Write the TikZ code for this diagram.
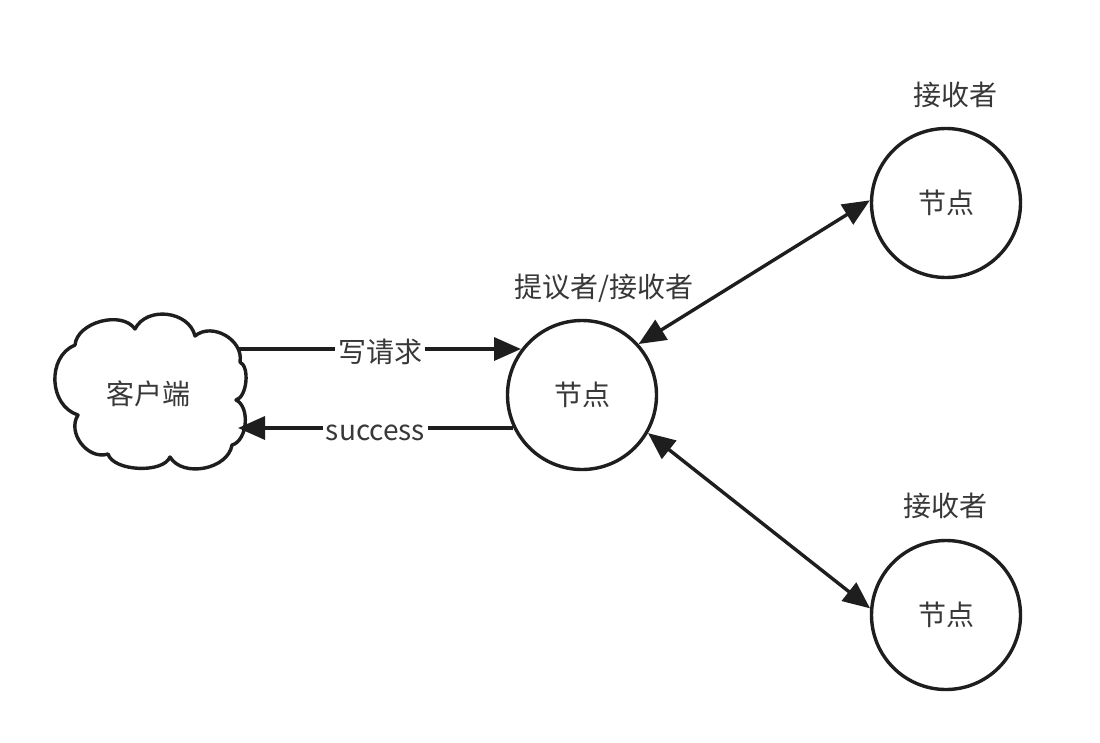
\documentclass[tikz,border=0pt]{standalone}
\usepackage{fontspec}
\setmainfont{Noto Sans CJK SC}
\usetikzlibrary{arrows.meta}
\definecolor{linec}{HTML}{1E1E1E}
\definecolor{textc}{HTML}{383838}
\tikzset{
  nodecirc/.style={circle,draw=linec,line width=3.4pt,minimum size=149pt,inner sep=0pt,text=textc,font=\fontsize{28}{32}\selectfont},
  lbl/.style={text=textc,font=\fontsize{28}{32}\selectfont,inner sep=1pt},
  conn/.style={draw=linec,line width=3.4pt},
  tip/.style={-{Triangle[length=27pt,width=23pt]}},
  dtip/.style={{Triangle[length=27pt,width=23pt]}-{Triangle[length=27pt,width=23pt]}},
  puff/.style={bend left=70,looseness=#1},
}
\begin{document}
\begin{tikzpicture}[x=1pt,y=-1pt]
\useasboundingbox[fill=white] (0,0) rectangle (1100,742);
% cloud outline
\draw[linec,line width=3.4pt,line join=round]
  (75,345) to[puff=0.95] (135,329) to[puff=1.1] (195,336) to[puff=1.1] (240,362)
  to[puff=0.75] (236,400) to[puff=0.9] (232,445) to[puff=1.0] (170,457)
  to[puff=0.75] (108,454) to[puff=1.1] (78,415) to[puff=1.12] cycle;
\node[lbl] (client) at (148,394) {客户端};
\node[nodecirc] (prop) at (582,395) {节点};
\node[nodecirc] (acc1) at (946,203) {节点};
\node[nodecirc] (acc2) at (946,615) {节点};
\node[lbl] (lp) at (604,288) {提议者/接收者};
\node[lbl] (la1) at (955,95) {接收者};
\node[lbl] (la2) at (945,506) {接收者};
\coordinate (w1) at (239,349);
\coordinate (w2) at (521,349);
\coordinate (s1) at (513,428);
\coordinate (s2) at (238,428);
\draw[conn,tip] (w1) -- node[lbl,fill=white,inner xsep=3pt,yshift=-3pt] (lw) {写请求} (w2);
\draw[conn,tip] (s1) -- node[lbl,fill=white,inner xsep=3pt,yshift=-5pt] (ls) {success} (s2);
\draw[conn,dtip] (prop.42) -- (acc1.178);
\draw[conn,dtip] (prop.-30) -- (acc2.175);
\end{tikzpicture}
\end{document}
